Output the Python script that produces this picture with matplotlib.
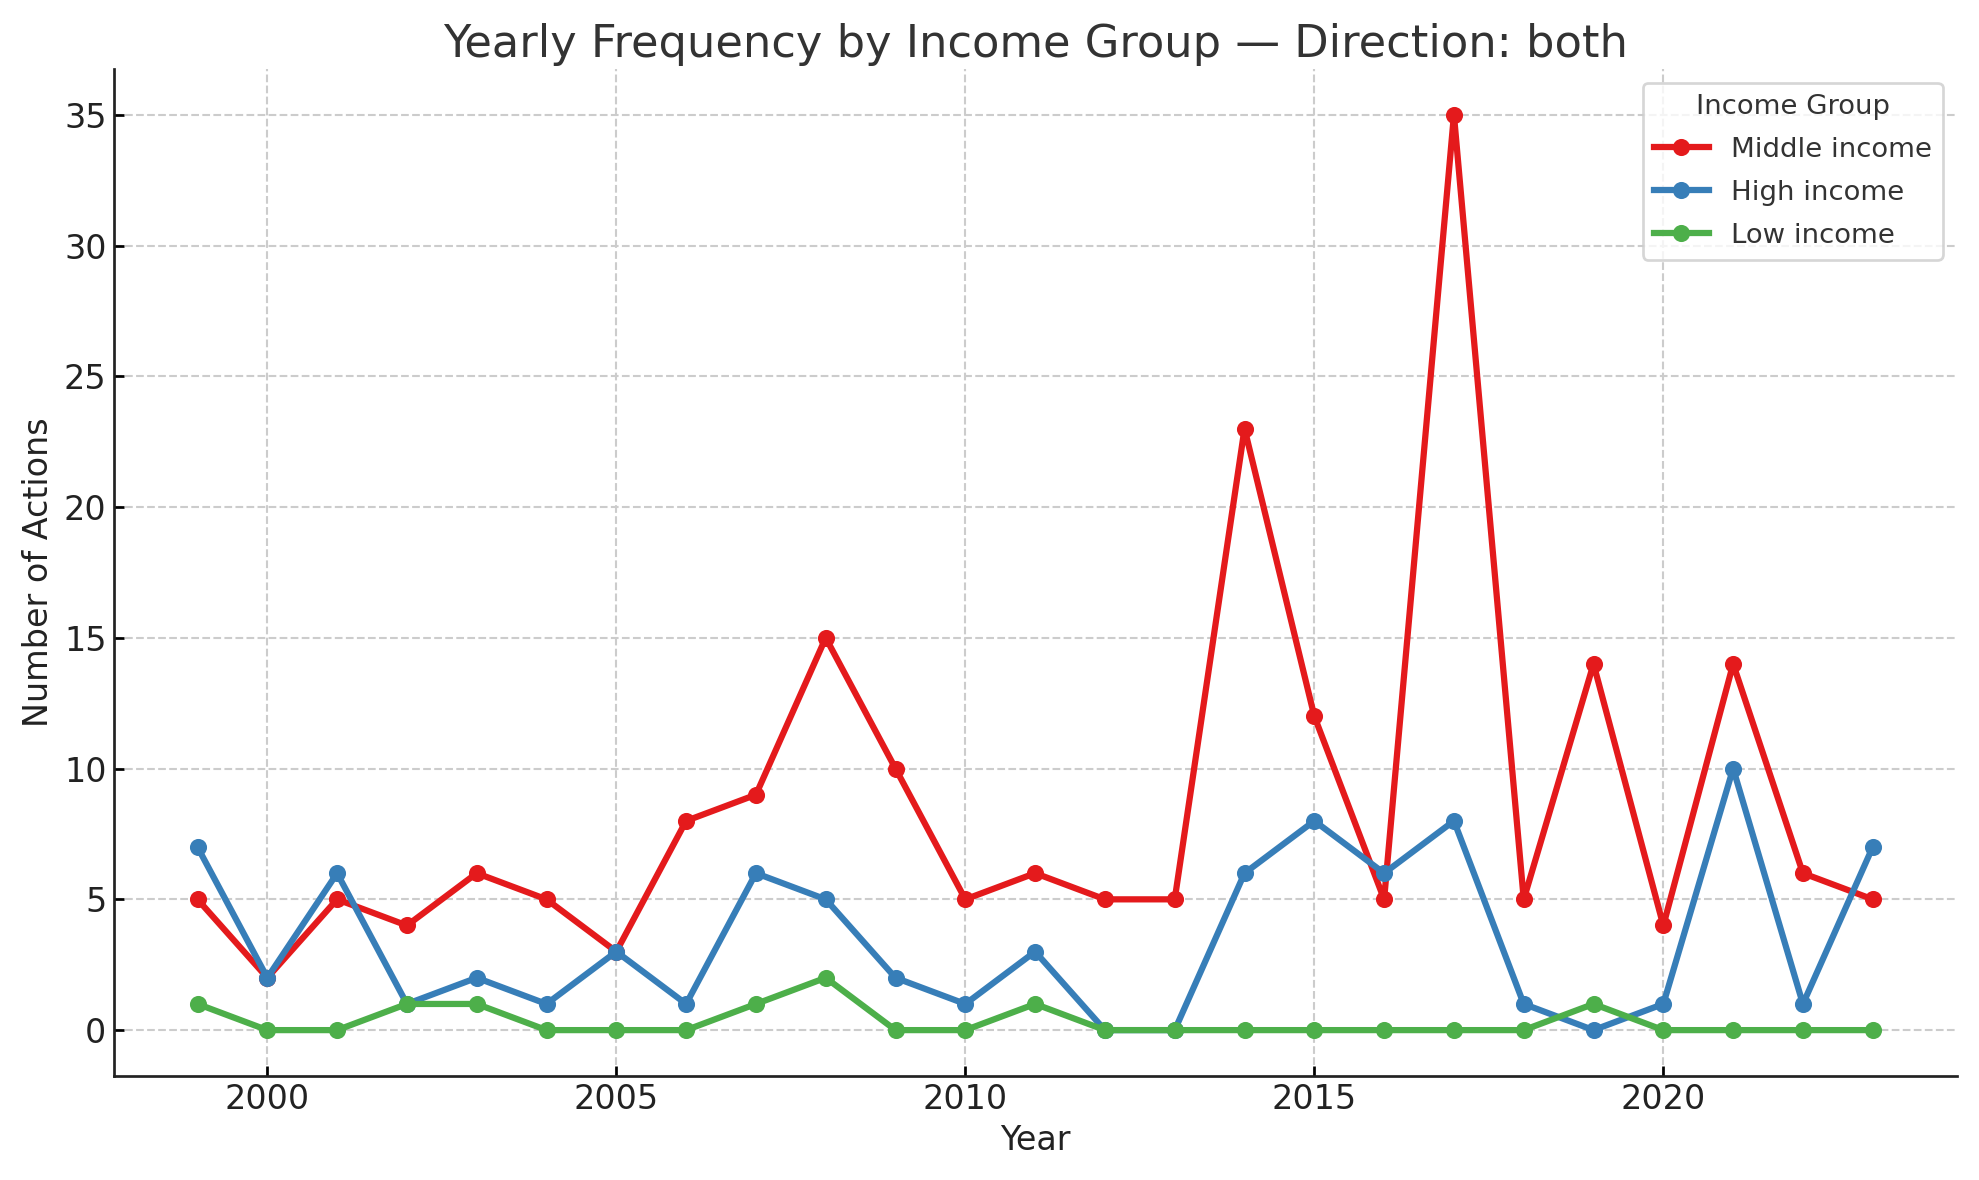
import matplotlib.pyplot as plt

years = list(range(1999, 2024))
middle = [5, 2, 5, 4, 6, 5, 3, 8, 9, 15, 10, 5, 6, 5, 5, 23, 12, 5, 35, 5, 14, 4, 14, 6, 5]
high = [7, 2, 6, 1, 2, 1, 3, 1, 6, 5, 2, 1, 3, 0, 0, 6, 8, 6, 8, 1, 0, 1, 10, 1, 7]
low = [1, 0, 0, 1, 1, 0, 0, 0, 1, 2, 0, 0, 1, 0, 0, 0, 0, 0, 0, 0, 1, 0, 0, 0, 0]

series = [('Middle income', middle, '#e41a1c'),
          ('High income', high, '#377eb8'),
          ('Low income', low, '#4daf4a')]


def main():
    fig, ax = plt.subplots(figsize=(1979 / 150, 1180 / 150), dpi=150)

    for name, vals, color in series:
        ax.plot(years, vals, marker='o', markersize=7.2, linewidth=3, color=color, label=name)

    ax.set_title('Yearly Frequency by Income Group \u2014 Direction: both', fontsize=21.5, color='#333333')
    ax.set_xlabel('Year', fontsize=16, color='#222222')
    ax.set_ylabel('Number of Actions', fontsize=16, color='#222222')
    ax.tick_params(labelsize=16, direction='in', length=5, width=1.3, labelcolor='#222222')
    ax.grid(True, linestyle='--', color='#cccccc', linewidth=1.0)
    ax.spines['top'].set_visible(False)
    ax.spines['right'].set_visible(False)
    for side in ('left', 'bottom'):
        ax.spines[side].set_linewidth(1.3)
        ax.spines[side].set_color('#222222')
    ax.set_xlim(1997.8, 2024.2)
    ax.set_ylim(-1.75, 36.75)

    leg = ax.legend(title='Income Group', fontsize=13.2, title_fontsize=13.2, loc='upper right',
                    edgecolor='#cccccc', labelspacing=0.62)
    leg.get_frame().set_linewidth(1.3)
    leg.get_title().set_color('#333333')
    for t in leg.get_texts():
        t.set_color('#333333')

    plt.tight_layout()
    plt.savefig('out.png', dpi=150)


if __name__ == '__main__':
    main()
